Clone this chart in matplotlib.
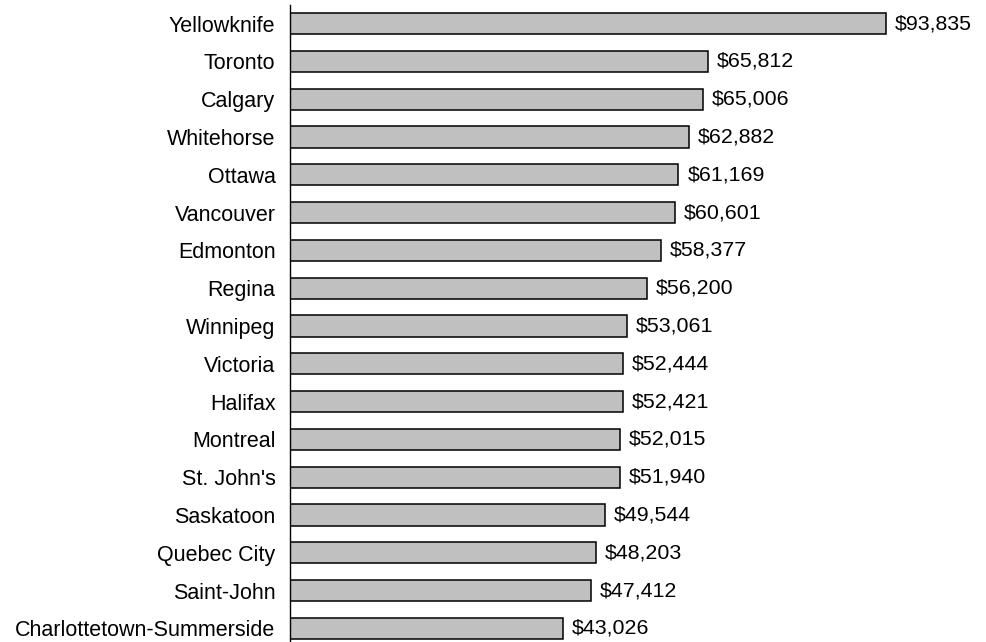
import matplotlib.pyplot as plt

plt.rcParams['font.family'] = ['Liberation Sans', 'DejaVu Sans']

cities = ['Yellowknife', 'Toronto', 'Calgary', 'Whitehorse', 'Ottawa', 'Vancouver',
          'Edmonton', 'Regina', 'Winnipeg', 'Victoria', 'Halifax', 'Montreal',
          "St. John's", 'Saskatoon', 'Quebec City', 'Saint-John',
          'Charlottetown-Summerside']
income = [93835, 65812, 65006, 62882, 61169, 60601, 58377, 56200, 53061, 52444,
          52421, 52015, 51940, 49544, 48203, 47412, 43026]

fig = plt.figure(figsize=(9.86, 6.42), dpi=100)
ax = fig.add_axes([290 / 986, 0, 635 / 986, 637 / 642])

pos = list(range(len(cities)))
ax.barh(pos, income, height=0.56, color='#c0c0c0', edgecolor='black', linewidth=1.1)

for p, v in zip(pos, income):
    ax.text(v + 1400, p, f'${v:,}', va='center', ha='left', fontsize=15.4)

ax.set_xlim(0, 100000)
ax.set_ylim(16.36, -0.49)
ax.set_yticks(pos)
ax.set_yticklabels(cities, fontsize=15.5)
ax.tick_params(axis='y', length=0, pad=10.5)
ax.set_xticks([])
for s in ['top', 'right', 'bottom']:
    ax.spines[s].set_visible(False)
ax.spines['left'].set_linewidth(1.0)

fig.savefig('out.png', dpi=100)
